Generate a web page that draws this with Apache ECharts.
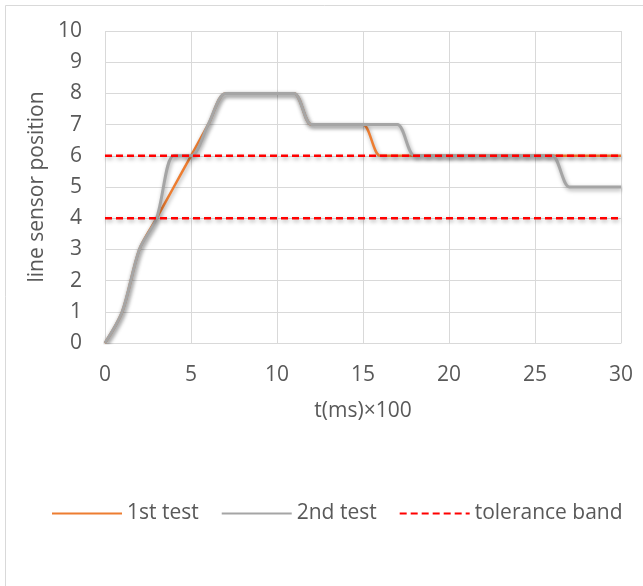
<!DOCTYPE html>
<html>
<head>
<meta charset="utf-8">
<script src="https://cdn.jsdelivr.net/npm/echarts@6/dist/echarts.min.js"></script>
<style>html,body{margin:0;padding:0;background:#fff}#c{width:643px;height:586px}</style>
</head>
<body>
<div id="c"></div>
<script>
const t = [0,1,2,3,4,5,6,7,8,9,10,11,12,13,14,15,16,17,18,19,20,21,22,23,24,25,26,27,28,29,30];
const test1 = [0,1,3,4,5,6,7,8,8,8,8,8,7,7,7,7,6,6,6,6,6,6,6,6,6,6,6,6,6,6,6];
const test2 = [0,1,3,4,6,6,7,8,8,8,8,8,7,7,7,7,7,7,6,6,6,6,6,6,6,6,6,5,5,5,5];
const bandX = [0,30];
const bandLow = [4,4];
const bandHigh = [6,6];

const FONT = 'Open Sans';
const TXT = '#595959';
const FS = 21;
const pair = (xs, ys) => xs.map((x, i) => [x, ys[i]]);
const shadow = {shadowBlur: 4, shadowColor: 'rgba(0,0,0,0.35)', shadowOffsetY: 2, shadowOffsetX: 1};

const chart = echarts.init(document.getElementById('c'), null, {renderer: 'canvas'});
chart.setOption({
  animation: false,
  backgroundColor: '#fff',
  graphic: [{type: 'rect', shape: {x: 5.5, y: 5.5, width: 1000, height: 1000}, style: {fill: 'none', stroke: '#d9d9d9', lineWidth: 1}, silent: true}],
  grid: {left: 105, right: 22, top: 31, bottom: 243, containLabel: false},
  legend: {
    left: 46, top: 498, itemWidth: 70, itemHeight: 14, itemGap: 22,
    itemStyle: {opacity: 0},
    textStyle: {fontFamily: FONT, fontSize: FS, color: TXT},
    data: ['1st test', '2nd test', 'tolerance band']
  },
  xAxis: {
    type: 'value', min: 0, max: 30, interval: 5,
    name: 't(ms)×100', nameLocation: 'middle', nameGap: 58,
    nameTextStyle: {fontFamily: FONT, fontSize: FS, color: TXT},
    axisLine: {show: true, lineStyle: {color: '#d9d9d9', width: 1}},
    axisTick: {show: false},
    axisLabel: {fontFamily: FONT, fontSize: FS, color: TXT, margin: 22},
    splitLine: {show: true, lineStyle: {color: '#d9d9d9', width: 1}}
  },
  yAxis: {
    type: 'value', min: 0, max: 10, interval: 1,
    name: 'line sensor position', nameLocation: 'middle', nameGap: 57,
    nameTextStyle: {fontFamily: FONT, fontSize: FS, color: TXT},
    axisLine: {show: false},
    axisTick: {show: false},
    axisLabel: {fontFamily: FONT, fontSize: FS, color: TXT, margin: 23},
    splitLine: {show: true, lineStyle: {color: '#d9d9d9', width: 1}}
  },
  series: [
    {name: '1st test', type: 'line', data: pair(t, test1), smooth: 0.3, symbol: 'none',
     itemStyle: {color: '#ED7D31'}, lineStyle: Object.assign({color: '#ED7D31', width: 2.5}, shadow), z: 2},
    {name: '2nd test', type: 'line', data: pair(t, test2), smooth: 0.3, symbol: 'none',
     itemStyle: {color: '#A5A5A5'}, lineStyle: Object.assign({color: '#A5A5A5', width: 3}, shadow), z: 3},
    {name: 'tolerance band', type: 'line', data: pair(bandX, bandHigh), symbol: 'none',
     itemStyle: {color: '#FF0000'}, lineStyle: Object.assign({color: '#FF0000', width: 2.5, type: [7, 4]}, shadow), z: 4},
    {name: 'tolerance band', type: 'line', data: pair(bandX, bandLow), symbol: 'none',
     itemStyle: {color: '#FF0000'}, lineStyle: Object.assign({color: '#FF0000', width: 2.5, type: [7, 4]}, shadow), z: 4}
  ]
});
</script>
</body>
</html>
